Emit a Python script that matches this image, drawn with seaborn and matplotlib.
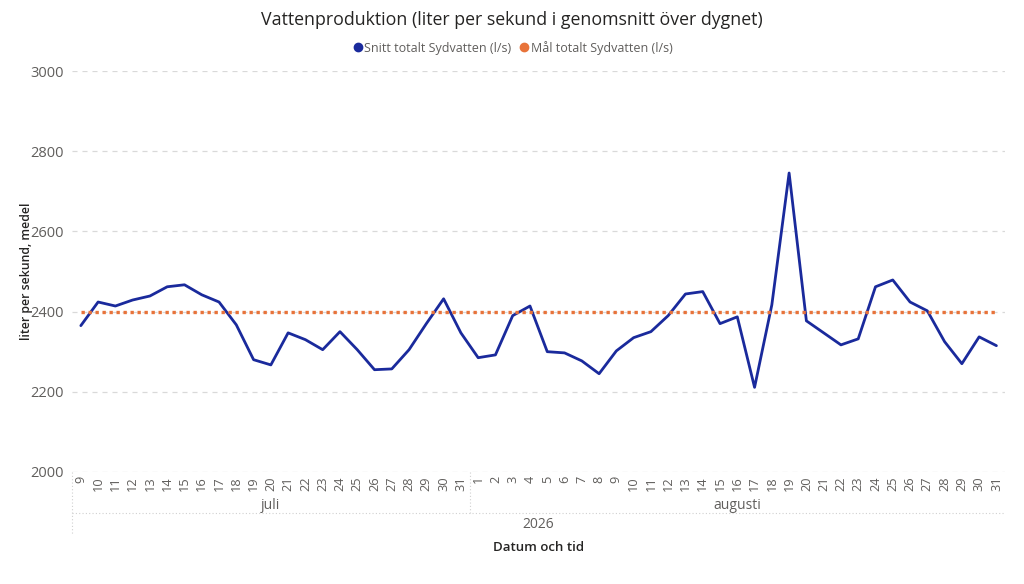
import numpy as np
import pandas as pd
import matplotlib
matplotlib.use("Agg")
import matplotlib.pyplot as plt
import seaborn as sns
from matplotlib.lines import Line2D

# ---- data ----
days_jul = list(range(9, 32))
days_aug = list(range(1, 32))
snitt = [2365, 2424, 2414, 2429, 2439, 2462, 2467, 2442, 2424, 2367,
         2280, 2267, 2347, 2330, 2305, 2350, 2305, 2255, 2257, 2305,
         2370, 2432, 2347,
         2285, 2292, 2390, 2414, 2300, 2297, 2277, 2245, 2302, 2335,
         2350, 2390, 2444, 2450, 2370, 2387, 2211, 2417, 2746, 2377,
         2347, 2317, 2332, 2462, 2479, 2424, 2402, 2325, 2270, 2337, 2315]
mal = [2400] * len(snitt)
month_names = ["juli", "augusti"]
year_label = "2026"
yticks = [2000, 2200, 2400, 2600, 2800, 3000]

day_labels = [str(d) for d in days_jul + days_aug]
df = pd.DataFrame({"pos": np.arange(len(snitt)), "snitt": snitt, "mal": mal})

sns.set_theme(style="white")
plt.rcParams["font.family"] = ["Open Sans", "DejaVu Sans"]

blue = "#1A2A9C"
orange = "#E8733A"
grey = "#605E5C"
dark = "#252423"

fig = plt.figure(figsize=(10.24, 5.84), dpi=100)
ax = fig.add_axes([0.0705, 0.192, 0.911, 0.686])

# series: daily average and target
sns.lineplot(data=df, x="pos", y="snitt", ax=ax, color=blue, linewidth=2.0)
sns.lineplot(data=df, x="pos", y="mal", ax=ax, color=orange, linewidth=2.4,
             linestyle=(0, (1.0, 1.1)))

ax.set_xlim(-0.5, len(snitt) - 0.5)
ax.set_ylim(2000, 3000)
ax.set_yticks(yticks)
ax.set_yticklabels([str(v) for v in yticks], color=grey, fontsize=10.5)
ax.yaxis.grid(True, linestyle=(0, (4, 4)), color="#D9D9D9", linewidth=0.9)
ax.set_axisbelow(True)
for s in ax.spines.values():
    s.set_visible(False)
ax.tick_params(axis="y", length=0, pad=6)

ax.set_xticks(df["pos"])
ax.set_xticklabels(day_labels, rotation=90, color=grey, fontsize=9.2)
ax.tick_params(axis="x", length=0, pad=3)

ax.set_xlabel("")
ax.set_ylabel("liter per sekund, medel", fontsize=8.8, color=dark,
              fontweight="semibold")
ax.yaxis.set_label_coords(-0.042, 0.5)

# hierarchical axis: months, year
trans = ax.get_xaxis_transform()
n_jul = len(days_jul)
sep = n_jul - 0.5
ax.text((-0.5 + sep) / 2, -0.083, month_names[0], transform=trans,
        ha="center", va="center", color=grey, fontsize=10)
ax.text((sep + len(snitt) - 0.5) / 2, -0.083, month_names[1], transform=trans,
        ha="center", va="center", color=grey, fontsize=10)
ax.text((len(snitt) - 1) / 2, -0.131, year_label, transform=trans,
        ha="center", va="center", color=grey, fontsize=10)
dot = dict(color="#D0D0D0", linewidth=0.8, linestyle=(0, (1, 2)),
           transform=trans, clip_on=False)
ax.add_line(Line2D([-0.5, -0.5], [0.0, -0.157], **dot))
ax.add_line(Line2D([sep, sep], [0.0, -0.103], **dot))
ax.add_line(Line2D([-0.5, len(snitt) - 0.5], [-0.103, -0.103], **dot))

ax.text((len(snitt) - 1) / 2, -0.188, "Datum och tid", transform=trans,
        ha="center", va="center", color=dark, fontsize=9.5,
        fontweight="semibold")

fig.text(0.5, 0.965, "Vattenproduktion (liter per sekund i genomsnitt över dygnet)",
         ha="center", va="center", fontsize=12.8, color=dark)

handles = [Line2D([], [], marker="o", linestyle="", color=blue, markersize=6,
                  label="Snitt totalt Sydvatten (l/s)"),
           Line2D([], [], marker="o", linestyle="", color=orange, markersize=6,
                  label="Mål totalt Sydvatten (l/s)")]
leg = fig.legend(handles=handles, loc="center", bbox_to_anchor=(0.5, 0.918),
                 ncol=2, frameon=False, fontsize=9, handletextpad=0.05,
                 columnspacing=0.5, handlelength=1.0)
for t in leg.get_texts():
    t.set_color(grey)

fig.savefig("out.png", dpi=100)
